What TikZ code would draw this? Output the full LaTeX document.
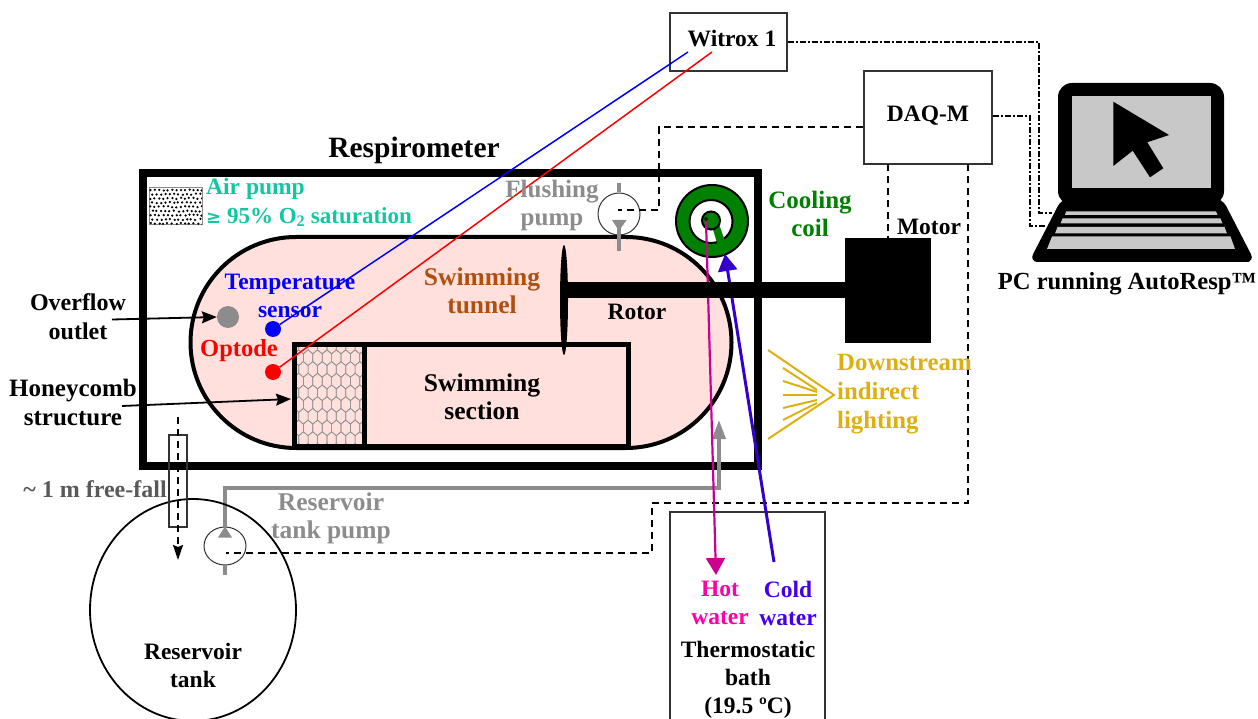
\documentclass[tikz,border=0pt]{standalone}
\usepackage{fontspec}
\setmainfont{Liberation Serif}
\newfontfamily\djv{DejaVu Sans}
\usetikzlibrary{arrows.meta,shapes.geometric}
\definecolor{teal1}{HTML}{10C8A0}
\definecolor{gold1}{HTML}{DDB010}
\definecolor{brown1}{HTML}{B05010}
\definecolor{green1}{HTML}{008000}
\definecolor{gray1}{HTML}{8C8C8C}
\definecolor{hot1}{HTML}{FF00AA}
\definecolor{hotline}{HTML}{CC0090}
\definecolor{cold1}{HTML}{4400EE}
\definecolor{coldline}{HTML}{3300CC}
\definecolor{pink1}{HTML}{FFE0DC}
\definecolor{screen1}{HTML}{C8C8C8}
\tikzset{
 lbl/.style={font=\fontsize{23.5}{25}\selectfont\bfseries,inner sep=0pt,align=center},
 sz/.style={font=\fontsize{#1}{25}\selectfont\bfseries},
 boxn/.style={draw=black!80,line width=1.6pt,inner sep=0pt,fill=none},
 wall/.style={draw=black,line width=8pt,line join=miter},
 sect/.style={draw=black,line width=5pt},
 dsh/.style={draw=black,line width=1.8pt,dash pattern=on 7pt off 5pt},
 dda/.style={draw=black,line width=1.9pt,dash pattern=on 6pt off 2pt on 2pt off 2pt},
 pumpc/.style={shape=ellipse,draw=black!80,line width=1pt,inner sep=0pt,minimum width=42pt,minimum height=#1},
 grayp/.style={draw=gray1,line width=3.5pt},
 dot/.style={shape=circle,inner sep=0pt,minimum size=#1},
 gl/.style={draw=gold1,line width=2pt},
 ptr/.style={black,line width=1.8pt,-{Stealth[length=15pt,width=12pt,inset=2pt]}},
}
\begin{document}
\begin{tikzpicture}[x=1pt,y=-1pt]
\useasboundingbox (0,0) rectangle (1258,719);
% Respirometer wall
\draw[wall] (143,173) rectangle (758,466);
% Tunnel
\draw[fill=pink1,draw=black,line width=4pt] (296,237) -- (626,237) arc (90:-90:105.5pt) -- (296,448) arc (-90:-270:105.5pt) -- cycle;
% Honeycomb
\begin{scope}
\clip (295,347) rectangle (363,446);
\foreach \r in {0,...,10}{
  \foreach \c in {0,...,8}{
    \pgfmathsetmacro{\cx}{294+\c*9.4+mod(\r,2)*4.7}
    \pgfmathsetmacro{\cy}{346+\r*11.7}
    \draw[draw=black!42,line width=.7pt] (\cx-4.7,\cy-3.9) -- (\cx,\cy-7.8) -- (\cx+4.7,\cy-3.9) -- (\cx+4.7,\cy+3.9) -- (\cx,\cy+7.8) -- (\cx-4.7,\cy+3.9) -- cycle;
  }
}
\end{scope}
\draw[sect] (294.5,344.5) rectangle (628,446);
\draw[sect] (364,344.5) -- (364,446);
% Air pump
\draw[draw=gray1,line width=1pt,fill=white] (149,188) rectangle (202,225);
\pgfmathsetseed{7}
\begin{scope}
\clip (149,188) rectangle (202,225);
\foreach \r in {0,...,8}{
  \foreach \c in {0,...,12}{
    \pgfmathsetmacro{\dx}{150.5+\c*4.3+mod(\r,2)*2.1+rand*.7}
    \pgfmathsetmacro{\dy}{190+\r*4.2+rand*.6}
    \fill[black] (\dx,\dy) circle[radius=1.25pt];
  }
}
\end{scope}
% Sensors
\node[dot=22pt,fill=gray1] (overflow) at (228,317) {};
\node[dot=16pt,fill=blue] (temp) at (273,329) {};
\node[dot=16pt,fill=red] (optode) at (273,372) {};
% Boxes
\node[boxn,minimum width=117pt,minimum height=58pt] (witrox) at (728.5,42) {};
\node[boxn,minimum width=128pt,minimum height=93pt] (daq) at (928,117.5) {};
\draw[draw=black!80,line width=1.6pt] (670,725) -- (670,512) -- (825,512) -- (825,725);
\coordinate (wa) at (688,52);
\coordinate (wb) at (712,52);
\draw[blue,line width=1.5pt] (temp) -- (wa);
\draw[red,line width=1.5pt] (optode) -- (wb);
% Pumps
\node[pumpc=42pt] (fp) at (619,214) {};
\node[pumpc=38pt] (rp) at (225,546) {};
\draw[grayp] (619,183) -- (fp.north);
\draw[grayp] (619,228) -- (619,251);
\fill[gray1] (612,220) -- (626.5,220) -- (619,231) -- cycle;
\draw[grayp] (225,565) -- (225,575);
\fill[gray1] (218,537.5) -- (232,537.5) -- (225,526.5) -- cycle;
\coordinate (rpt) at (225,527);
\coordinate (inlet) at (719,420);
\draw[grayp,-{Triangle[length=19pt,width=13pt]}] (rpt) -- (225,488) -- (719,488) -- (inlet);
% DAQ connections
\coordinate (fpc) at (618,210);
\coordinate (rpc) at (226,553);
\draw[dsh] (daq.west |- 0,127) -- (659,127) -- (659,210) -- (fpc);
\draw[dsh] (968,164) -- (968,503) -- (652,503) -- (652,553) -- (rpc);
\draw[dsh] (888,164) -- (888,238);
% Coil
\draw[draw=black,line width=2pt,fill=green1] (712,221) circle[radius=36pt];
\fill[white,draw=black,line width=2pt] (711,221.5) circle[radius=21.5pt];
\fill[green1] (712,226) -- (719,224) -- (728,250) -- (723,255) -- (717,243) -- cycle;
\fill[green1,draw=black,line width=2pt] (711,220.5) circle[radius=9pt];
\fill[black!70!green1] (706,219) circle[radius=2pt];
% Hot and cold
\coordinate (hs) at (706,221);
\coordinate (he) at (716,575);
\coordinate (cs) at (774,562);
\coordinate (ce) at (725,254);
\draw[hotline,line width=2.2pt,-{Triangle[length=17pt,width=19pt]}] (hs) -- (he);
\draw[coldline,line width=3pt,-{Triangle[length=17pt,width=19pt]}] (cs) -- (ce);
% Rotor + motor
\node[shape=ellipse,fill=black,inner sep=0pt,minimum width=8pt,minimum height=110pt] (rotor) at (564,300) {};
\node[fill=black,inner sep=0pt,minimum width=86pt,minimum height=105pt] (motor) at (888,290.5) {};
\draw[black,line width=16pt] (rotor.center |- motor.center) -- (motor.center);
% Tank and tube
\node[shape=ellipse,draw=black,line width=1.8pt,inner sep=0pt,minimum width=206pt,minimum height=222pt] (tank) at (193,610) {};
\draw[draw=black!80,line width=1.2pt] (169,435) rectangle (187,527);
\coordinate (fa) at (178,417);
\coordinate (fb) at (178,560);
\draw[dsh,-{Stealth[length=15pt,width=10pt,inset=2pt]}] (fa) -- (fb);
% Lighting
\draw[gl,line join=miter] (768,350) -- (834,395) -- (768,439);
\draw[gl] (783,368) -- (817,390);
\draw[gl] (783,381) -- (817,392);
\draw[gl] (783,395) -- (817,395);
\draw[gl] (783,408) -- (817,400);
\draw[gl] (783,420) -- (817,403);
% Laptop
\fill[black,rounded corners=14pt] (1058,83) -- (1224,83) -- (1224,205) -- (1058,205) -- cycle;
\fill[screen1] (1072,96) rectangle (1211,188);
\fill[black] (1113.3,101.7) -- (1169,135) -- (1147.3,142.3) -- (1163.3,168.3) -- (1150,177.3) -- (1132.7,150.7) -- (1113.3,166) -- cycle;
\fill[black,rounded corners=9pt] (1062,198) -- (1222,198) -- (1255,262) -- (1241,262) -- (1045,262) -- (1029,262) -- cycle;
\fill[screen1] (1066,211.5) -- (1216,211.5) -- (1217.5,215) -- (1065,215) -- cycle;
\fill[screen1] (1062.5,218.5) -- (1220.5,218.5) -- (1222.5,223.5) -- (1060.5,223.5) -- cycle;
\fill[screen1] (1057.5,227) -- (1224.5,227) -- (1227,233.5) -- (1055,233.5) -- cycle;
\fill[screen1] (1052,236.5) -- (1230.5,236.5) -- (1235,249) -- (1047,249) -- cycle;
% Dash-dot links
\coordinate (lapa) at (1052,213);
\coordinate (lapb) at (1045,226);
\draw[dda] (witrox.east) -- (1039,42) -- (1039,213) -- (lapa);
\draw[dda] (daq.east |- 0,116) -- (1030,116) -- (1030,226) -- (lapb);
% Pointers
\node[lbl,sz=24] (tover) at (78,317) {Overflow\\[4pt]outlet};
\node[lbl,sz=25] (thoney) at (73,402.5) {Honeycomb\\[4pt]structure};
\coordinate (ova) at (112,319.5);
\coordinate (hoa) at (122,406);
\coordinate (hob) at (291,399);
\draw[ptr] (ova) -- (overflow.west);
\draw[ptr] (hoa) -- (hob);
% Text
\node[lbl,font=\fontsize{29.5}{32}\selectfont\bfseries] (tresp) at (414,150) {Respirometer};
\node[lbl,text=teal1,anchor=west] (tair) at (206,189) {Air pump};
\node[lbl,text=teal1,anchor=west,sz=23] (tsat) at (206,217) {{\djv\fontsize{18}{25}\selectfont ≥} 95\% O\textsubscript{2} saturation};
\node[lbl,text=blue] (ttemp) at (290,296) {Temperature\\[3pt]sensor};
\node[lbl,text=red,sz=24.5] (topt) at (239,351) {Optode};
\node[lbl,text=brown1,sz=25.5] (ttun) at (482,291) {Swimming\\[3pt]tunnel};
\node[lbl] (trot) at (637,312) {Rotor};
\node[lbl,sz=25.5] (tsec) at (482,397) {Swimming\\[3pt]section};
\node[lbl,text=gray1,sz=25] (tflu) at (552,205) {Flushing\\[3pt]pump};
\node[lbl,text=green1,sz=25] (tcool) at (810,214) {Cooling\\[3pt]coil};
\node[lbl] (tmot) at (929,227) {Motor};
\node[lbl,text=black!65,sz=24] (tfall) at (95,489) {\textasciitilde{} 1 m free-fall};
\node[lbl,text=gray1,sz=25.5] (tres) at (331,518) {Reservoir\\[3pt]tank pump};
\node[lbl] (ttank) at (193,665) {Reservoir\\[3pt]tank};
\node[lbl,text=gold1,anchor=west,align=left,sz=24.8] (tdown) at (837,394) {Downstream\\[4pt]indirect\\[4pt]lighting};
\node[lbl,text=hot1] (thot) at (720,603) {Hot\\[3pt]water};
\node[lbl,text=cold1] (tcold) at (788,603) {Cold\\[3pt]water};
\node[lbl] (ttherm) at (748,680) {Thermostatic\\[3pt]bath\\[3pt](19.5 ºC)};
\node[lbl] (twit) at (732,39) {Witrox 1};
\node[lbl] (tdaq) at (928,116) {DAQ-M};
\node[lbl,sz=24.6] (tpc) at (1127,284) {PC running AutoResp\texttrademark};
\end{tikzpicture}
\end{document}
